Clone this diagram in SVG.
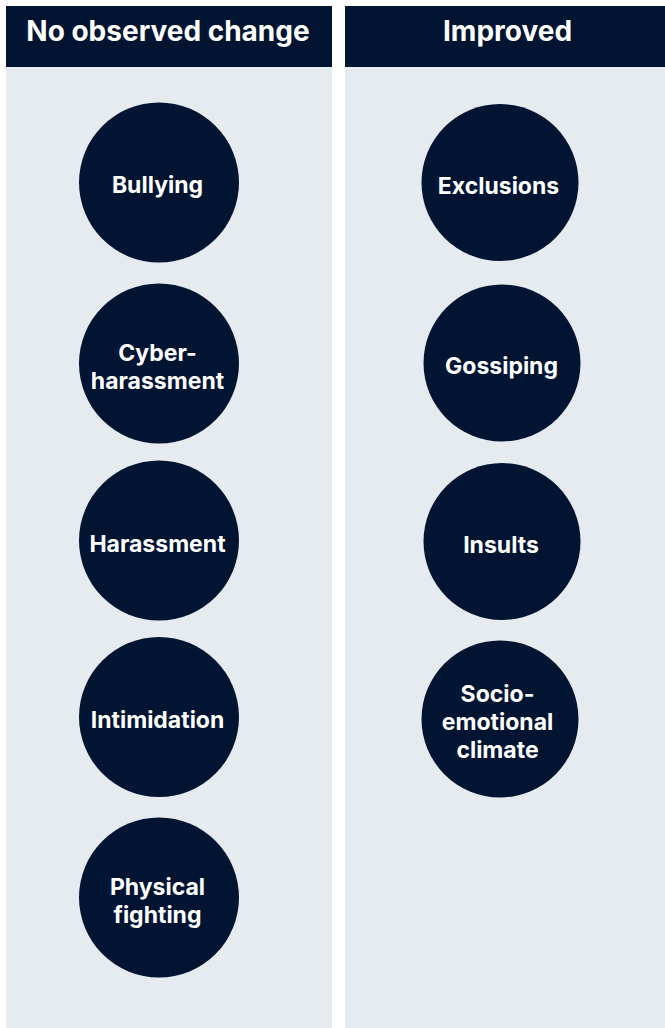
<svg xmlns="http://www.w3.org/2000/svg" width="665" height="1028" viewBox="0 0 665 1028">
  <style>
    .panel { fill: #E6EBF0; }
    .head { fill: #011533; }
    .head-text { fill: #FFFFFF; font-family: Inter, "Liberation Sans", sans-serif; font-weight: 700; font-size: 28px; text-anchor: middle; }
    .dot { fill: #011533; }
    .label { fill: #FFFFFF; font-family: Inter, "Liberation Sans", sans-serif; font-weight: 700; font-size: 23px; text-anchor: middle; }
  </style>
  <rect width="665" height="1028" fill="#FFFFFF"/>

  <!-- Column: No observed change -->
  <g id="col-no-change">
    <rect class="panel" x="6" y="67" width="326" height="961"/>
    <rect class="head" x="6" y="6" width="326" height="61"/>
    <text class="head-text" x="168" y="40.5">No observed change</text>
  </g>

  <!-- Column: Improved -->
  <g id="col-improved">
    <rect class="panel" x="345" y="67" width="320" height="961"/>
    <rect class="head" x="345" y="6" width="320" height="61"/>
    <text class="head-text" x="507.5" y="40.5">Improved</text>
  </g>

  <g id="bullying">
    <circle class="dot" cx="159" cy="182.5" r="80"/>
    <text class="label" x="157.5" y="192.5">Bullying</text>
  </g>
  <g id="cyberharassment">
    <circle class="dot" cx="159" cy="363.5" r="80"/>
    <text class="label" x="157.5" y="360.5">Cyber-</text>
    <text class="label" x="157.5" y="388.5">harassment</text>
  </g>
  <g id="harassment">
    <circle class="dot" cx="159" cy="540.5" r="80"/>
    <text class="label" x="157.5" y="551.5">Harassment</text>
  </g>
  <g id="intimidation">
    <circle class="dot" cx="159" cy="717" r="80"/>
    <text class="label" x="157.5" y="727.5">Intimidation</text>
  </g>
  <g id="physical-fighting">
    <circle class="dot" cx="159" cy="897.5" r="80"/>
    <text class="label" x="157.5" y="894.5">Physical</text>
    <text class="label" x="157.5" y="922.5">fighting</text>
  </g>

  <g id="exclusions">
    <circle class="dot" cx="500" cy="182.5" r="78.5"/>
    <text class="label" x="498.5" y="193.5">Exclusions</text>
  </g>
  <g id="gossiping">
    <circle class="dot" cx="502" cy="363" r="78.5"/>
    <text class="label" x="501.5" y="373.5">Gossiping</text>
  </g>
  <g id="insults">
    <circle class="dot" cx="502" cy="541.5" r="78.5"/>
    <text class="label" x="501" y="552.5">Insults</text>
  </g>
  <g id="socio-emotional-climate">
    <circle class="dot" cx="500" cy="719" r="78.5"/>
    <text class="label" x="497.5" y="701.5">Socio-</text>
    <text class="label" x="497.5" y="729.5">emotional</text>
    <text class="label" x="497.5" y="757.5">climate</text>
  </g>
</svg>
